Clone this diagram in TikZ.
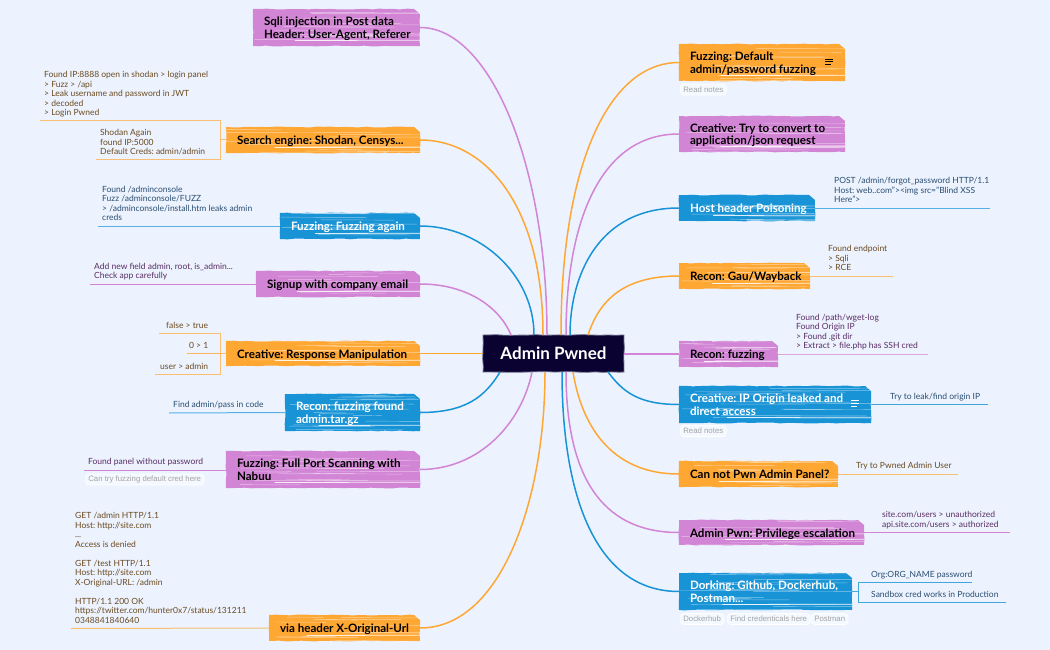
\documentclass[tikz,border=0pt]{standalone}
\usepackage{fontspec}
\setmainfont{Lato}
\newfontfamily\tagfont{Liberation Sans}
\usetikzlibrary{decorations.pathmorphing}
\definecolor{bgc}{HTML}{ECF3FF}
\definecolor{org}{HTML}{FFA733}
\definecolor{pnk}{HTML}{D284D5}
\definecolor{blu}{HTML}{1793D6}
\definecolor{hubc}{HTML}{0A0230}
\definecolor{orgt}{HTML}{6B4A20}
\definecolor{pnkt}{HTML}{5A2C62}
\definecolor{blut}{HTML}{2A4D70}
\definecolor{tagt}{HTML}{A3A3A3}
\tikzset{
  topicn/.style={inner xsep=11pt,inner ysep=0pt,font=\fontsize{11.6}{12.5}\selectfont\bfseries\frenchspacing},
  leafn/.style={inner xsep=4pt,inner ysep=2.4pt,font=\fontsize{8.5}{9.5}\selectfont\frenchspacing},
  tagn/.style={draw=white,fill=bgc!60!white,line width=.7pt,rounded corners=3.5pt,inner xsep=3pt,inner ysep=0pt,minimum height=11pt,text=tagt,font=\tagfont\fontsize{7.8}{9}\selectfont},
  conn/.style={line width=1.5pt},
  subl/.style={line width=1pt},
}
\newcommand{\flushbox}[3]{\makebox[#1pt][#2]{\begin{tabular}{@{}#2@{}}#3\end{tabular}}}
% name x1 y1 x2 y2 colour textcolour text
\newcommand{\mtopic}[8]{%
  \pgfmathsetmacro\tw{#4-#2}\pgfmathsetmacro\th{#5-#3}%
  \pgfmathsetmacro\tcx{(#2+#4)/2}\pgfmathsetmacro\tcy{(#3+#5)/2}%
  \pgfmathsetmacro\ttw{\tw-22}%
  \fill[#6,decorate,decoration={random steps,segment length=7pt,amplitude=.45pt}]
    (#2,#3)--({#4-6},#3)--(#4,{#3+5})--(#4,#5)--(#2,#5)--cycle;
  \begin{scope}
    \clip (#2,#3) rectangle (#4,#5);
    \pgfmathtruncatemacro\nsc{\th/2}%
    \foreach \i in {1,...,\nsc}{%
      \pgfmathsetmacro\sy{#3+rnd*\th}%
      \pgfmathsetmacro\sa{#2+rnd*\tw*0.6}%
      \pgfmathsetmacro\sb{\sa+(0.2+0.6*rnd)*\tw}%
      \draw[white,opacity=.5,line width=.45pt] (\sa,\sy)--(\sb,\sy+.3);
    }
    \draw[white,opacity=.85,line width=.8pt] ({#2+.25*\tw},{#5-5.5}) -- (#4,{#5-5.8});
  \end{scope}
  \node[topicn,text=#7,minimum width=\tw pt,minimum height=\th pt] (#1) at (\tcx,\tcy) {\raisebox{-5pt}[0pt][0pt]{\flushbox{\ttw}{l}{#8}}};
}
% name x1 x2 yline align(l/r) textcolour text
\newcommand{\mleaf}[7]{%
  \pgfmathsetmacro\lw{#3-#2}\pgfmathsetmacro\ltw{\lw-8}%
  \node[leafn,anchor=south west,minimum width=\lw pt,text=#6] (#1) at (#2,#4) {\flushbox{\ltw}{#5}{#7}};
}
\begin{document}
\begin{tikzpicture}[x=1pt,y=-1pt]
\pgfmathsetseed{11}
\fill[bgc] (0,0) rectangle (1050,650);
\useasboundingbox (0,0) rectangle (1050,650);

% hub
\node[fill=hubc,draw=hubc!55!bgc,line width=.8pt,decorate,decoration={random steps,segment length=8pt,amplitude=.4pt},
  minimum width=141pt,minimum height=37pt,inner sep=0pt,text=white,font=\fontsize{17}{20}\selectfont\bfseries] (hub) at (553.5,353.5) {Admin Pwned};
\foreach \n/\x in {a/511,b/534,c/543,d/547,e/561,f/566,g/570,h/588}{\coordinate (top\n) at (\x,335);}
\foreach \n/\x in {a/500,b/532,c/545,d/562,e/566,f/573,g/608}{\coordinate (bot\n) at (\x,372);}

% left topics
\mtopic{sqli}{253}{9}{420}{46}{pnk}{black}{Sqli injection in Post data\\Header: User-Agent, Referer}
\mtopic{search}{226}{127}{420}{153}{org}{black}{Search engine: Shodan, Censys...}
\mtopic{fagain}{280}{213}{420}{239}{blu}{white}{Fuzzing: Fuzzing again}
\mtopic{signup}{256}{271}{420}{297}{pnk}{black}{Signup with company email}
\mtopic{resp}{226}{341}{420}{366}{org}{black}{Creative: Response Manipulation}
\mtopic{rfound}{285}{394}{420}{431}{blu}{white}{Recon: fuzzing found\\admin.tar.gz}
\mtopic{port}{226}{451}{420}{488}{pnk}{black}{Fuzzing: Full Port Scanning with\\Nabuu}
\mtopic{xorig}{269}{615}{420}{641}{org}{black}{via header X-Original-Url}

% right topics
\mtopic{defz}{679}{44}{845}{81}{org}{black}{Fuzzing: Default\\admin/password fuzzing}
\mtopic{json}{679}{116}{845}{152}{pnk}{black}{Creative: Try to convert to\\application/json request}
\mtopic{host}{679}{195}{815}{221}{blu}{white}{Host header Poisoning}
\mtopic{gau}{679}{263}{810}{289}{org}{black}{Recon: Gau/Wayback}
\mtopic{rfuzz}{679}{341}{778}{367}{pnk}{black}{Recon: fuzzing}
\mtopic{ipo}{679}{386}{871}{423}{blu}{white}{Creative: IP Origin leaked and\\direct access}
\mtopic{cannot}{679}{461}{838}{487}{org}{black}{Can not Pwn Admin Panel?}
\mtopic{priv}{679}{520}{864}{545}{pnk}{black}{Admin Pwn: Privilege escalation}
\mtopic{dork}{679}{573}{852}{610}{blu}{white}{Dorking: Github, Dockerhub,\\Postman...}

% main connectors
\draw[conn,pnk] (sqli.east) .. controls +(70,0) and +(0,-170) .. (topd);
\draw[conn,org] (search.east) .. controls +(65,0) and +(0,-130) .. (topc);
\draw[conn,blu] (fagain.east) .. controls +(60,0) and +(0,-60) .. (topb);
\draw[conn,pnk] (signup.east) .. controls +(50,0) and +(-10,-25) .. (topa);
\draw[conn,org] (resp.east) -- (hub.west |- resp.east);
\draw[conn,blu] (rfound.east) .. controls +(45,0) and +(-15,25) .. (bota);
\draw[conn,pnk] (port.east) .. controls +(60,0) and +(-10,50) .. (botb);
\draw[conn,org] (xorig.east) .. controls +(80,0) and +(0,130) .. (botc);
\draw[conn,org] (defz.west) .. controls +(-70,0) and +(0,-170) .. (tope);
\draw[conn,pnk] (json.west) .. controls +(-80,0) and +(0,-110) .. (topf);
\draw[conn,blu] (host.west) .. controls +(-80,0) and +(0,-60) .. (topg);
\draw[conn,org] (gau.west) .. controls +(-60,0) and +(10,-30) .. (toph);
\draw[conn,pnk] (rfuzz.west) -- (hub.east |- rfuzz.west);
\draw[conn,blu] (ipo.west) .. controls +(-40,0) and +(15,20) .. (botg);
\draw[conn,org] (cannot.west) .. controls +(-70,0) and +(8,50) .. (botf);
\draw[conn,pnk] (priv.west) .. controls +(-80,0) and +(0,100) .. (bote);
\draw[conn,blu] (dork.west) .. controls +(-80,0) and +(0,130) .. (botd);

% left leaves
\mleaf{la}{40}{225}{121}{l}{orgt}{Found IP:8888 open in shodan > login panel\\> Fuzz > /api\\> Leak username and password in JWT\\> decoded\\> Login Pwned}
\mleaf{lb}{96}{220}{160}{l}{orgt}{Shodan Again\\found IP:5000\\Default Creds: admin/admin}
\coordinate (ja) at (search.west -| 220,0);
\draw[subl,org!70!bgc] (search.west) -- (ja) |- (la.south west);
\draw[subl,org!70!bgc] (ja) |- (lb.south west);
\mleaf{lc}{98}{270}{226}{l}{blut}{Found /adminconsole\\Fuzz /adminconsole/FUZZ\\> /adminconsole/install.htm leaks admin\\creds}
\draw[subl,blu!70!bgc] (fagain.west) -- (lc.south west);
\mleaf{ld}{90}{250}{284}{l}{pnkt}{Add new field admin, root, is\_admin...\\Check app carefully}
\draw[subl,pnk] (signup.west) -- (ld.south west);
\mleaf{le}{100}{212}{333.5}{r}{orgt}{false > true}
\mleaf{lf}{100}{212}{353.5}{r}{orgt}{0 > 1}
\mleaf{lg}{100}{212}{374.5}{r}{orgt}{user > admin}
\coordinate (jb) at (resp.west -| 220,0);
\draw[subl,org!70!bgc] (resp.west) -- (jb) |- (159,333.5);
\draw[subl,org!70!bgc] (jb) |- (155,374.5);
\draw[subl,org!80!bgc] (jb) -- (187,353.5);
\mleaf{lh}{169}{285}{413}{l}{blut}{Find admin/pass in code}
\draw[subl,blu!70!bgc] (rfound.west) -- (lh.south west);
\mleaf{li}{84}{226}{470}{l}{pnkt}{Found panel without password}
\draw[subl,pnk] (port.west |- li.south) -- (li.south west);
\node[tagn,anchor=west] (ta) at (85,479.5) {Can try fuzzing default cred here};
\mleaf{lj}{71}{265}{628.5}{l}{orgt}{GET /admin HTTP/1.1\\Host: http://site.com\\...\\Access is denied\\[9.5pt]GET /test HTTP/1.1\\Host: http://site.com\\X-Original-URL: /admin\\[9.5pt]HTTP/1.1 200 OK\\https://twitter.com/hunter0x7/status/131211\\0348841840640}
\draw[subl,org!70!bgc] (xorig.west) -- (lj.south west);

% right leaves
\mleaf{ra}{830}{990}{208}{l}{blut}{POST /admin/forgot\_password HTTP/1.1\\Host: web..com">\textless img src="Blind XSS\\Here">}
\draw[subl,blu!70!bgc] (host.east) -- (ra.south east);
\mleaf{rb}{824}{893}{276}{l}{orgt}{Found endpoint\\> Sqli\\> RCE}
\draw[subl,org!70!bgc] (gau.east) -- (rb.south east);
\mleaf{rc}{792}{928}{354}{l}{pnkt}{Found /path/wget-log\\Found Origin IP\\> Found .git dir\\> Extract > file.php has SSH cred}
\draw[subl,pnk!70!bgc] (rfuzz.east) -- (rc.south east);
\mleaf{rd}{886}{988}{404.5}{l}{blut}{Try to leak/find origin IP}
\draw[subl,blu!80!bgc] (ipo.east) -- (rd.south east);
\mleaf{re}{852}{958}{474}{l}{orgt}{Try to Pwned Admin User}
\draw[subl,org!70!bgc] (cannot.east) -- (re.south east);
\mleaf{rf}{878}{1010}{532.5}{l}{pnkt}{site.com/users > unauthorized\\api.site.com/users > authorized}
\draw[subl,pnk] (priv.east) -- (rf.south east);
\mleaf{rg}{867}{972}{582.5}{l}{blut}{Org:ORG\_NAME password}
\mleaf{rh}{867}{1006}{602.5}{l}{blut}{Sandbox cred works in Production}
\coordinate (jc) at (dork.east -| 858,0);
\draw[subl,blu!80!bgc] (dork.east) -- (jc) |- (rg.south east);
\draw[subl,blu!80!bgc] (jc) |- (rh.south east);

% note icons
\draw[black,line width=.8pt] (825,59.3)--(833,59.3) (825,61.7)--(833,61.7) (825,64)--(831,64);
\draw[white,line width=.8pt] (851,400)--(859,400) (851,403)--(859,403) (851,406)--(857,406);

% tags
\node[tagn,anchor=west] (tb) at (680,89.5) {Read notes};
\node[tagn,anchor=west] (tc) at (680,431) {Read notes};
\node[tagn,anchor=west] (td) at (680,619) {Dockerhub};
\node[tagn,anchor=west] (te) at (727,619) {Find credenticals here};
\node[tagn,anchor=west] (tf) at (811,619) {Postman};
\end{tikzpicture}
\end{document}
